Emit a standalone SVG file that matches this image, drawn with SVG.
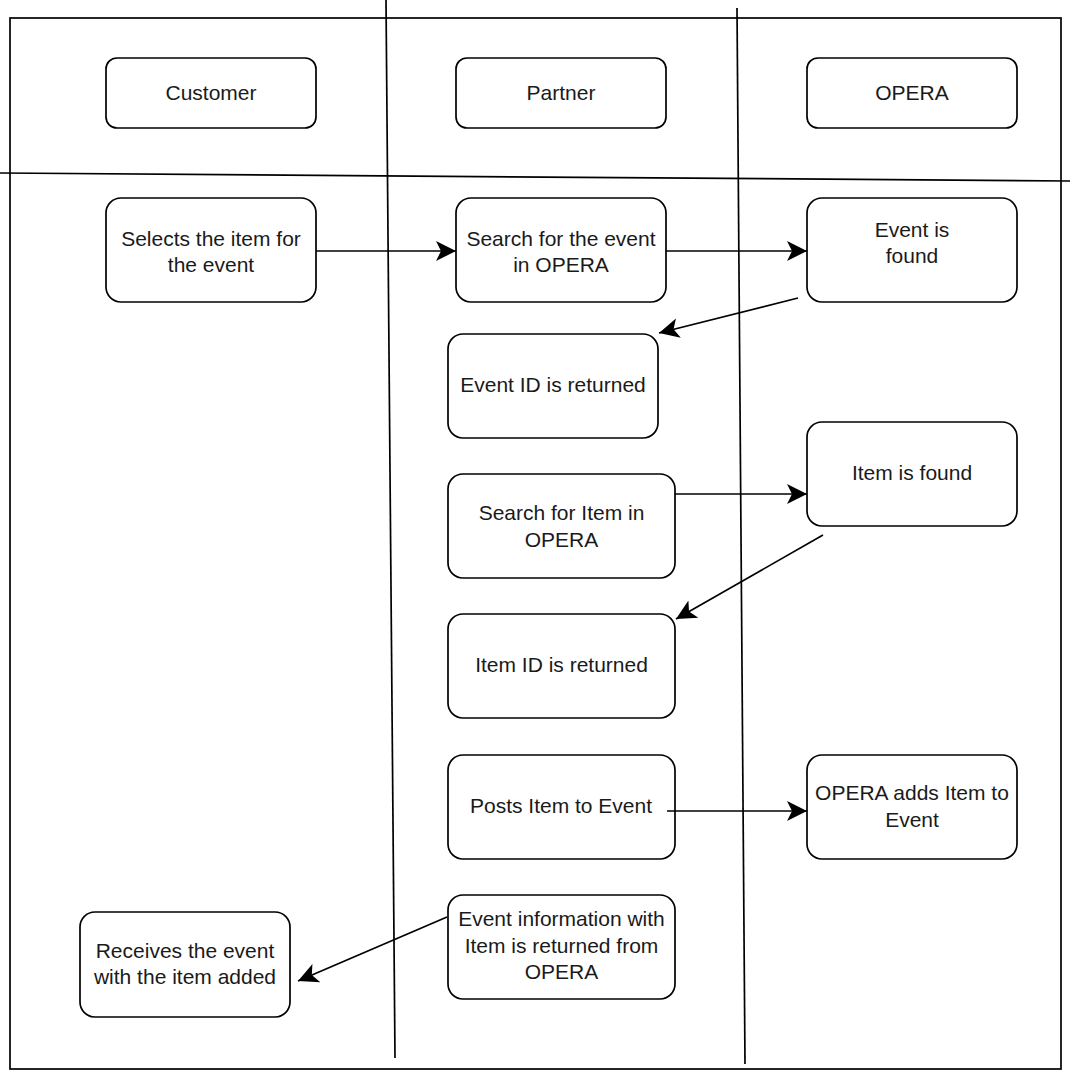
<svg xmlns="http://www.w3.org/2000/svg" width="1073" height="1071" viewBox="0 0 1073 1071">
<style>
.box{fill:#fff;stroke:#000;stroke-width:1.7}
.ln{fill:none;stroke:#000;stroke-width:1.7}
.t{font-family:"Liberation Sans",Arial,sans-serif;font-size:21px;fill:#1a1a1a;text-anchor:middle}
</style>
<defs>
<marker id="arr" markerUnits="userSpaceOnUse" markerWidth="24" markerHeight="24" viewBox="0 -12 24 24" refX="20" refY="0" orient="auto">
<path d="M0,-10 L20,0 L0,10 L5,0 Z" fill="#000"/>
</marker>
</defs>
<rect width="1073" height="1071" fill="#fff"/>
<g id="frame">
<rect x="10" y="18" width="1051" height="1051" class="ln" stroke-width="2"/>
<line x1="386" y1="0" x2="395" y2="1058" class="ln"/>
<line x1="737" y1="8" x2="745" y2="1064" class="ln"/>
<line x1="0" y1="173" x2="1070" y2="181" class="ln"/>
</g>
<g id="h-customer"><rect x="106" y="58" width="210" height="70" rx="11" class="box"/><text x="211" y="100" class="t">Customer</text></g>
<g id="h-partner"><rect x="456" y="58" width="210" height="70" rx="11" class="box"/><text x="561" y="100" class="t">Partner</text></g>
<g id="h-opera"><rect x="807" y="58" width="210" height="70" rx="11" class="box"/><text x="912" y="100" class="t">OPERA</text></g>
<g id="n-selects"><rect x="106" y="198" width="210" height="104" rx="15" class="box"/><text x="211" y="246" class="t">Selects the item for</text><text x="211" y="272" class="t">the event</text></g>
<g id="n-search-event"><rect x="456" y="198" width="210" height="104" rx="15" class="box"/><text x="561" y="246" class="t">Search for the event</text><text x="561" y="272" class="t">in OPERA</text></g>
<g id="n-event-found"><rect x="807" y="198" width="210" height="104" rx="15" class="box"/><text x="912" y="237" class="t">Event is</text><text x="912" y="263" class="t">found</text></g>
<g id="n-event-id"><rect x="448" y="334" width="210" height="104" rx="15" class="box"/><text x="553" y="392" class="t">Event ID is returned</text></g>
<g id="n-item-found"><rect x="807" y="422" width="210" height="104" rx="15" class="box"/><text x="912" y="480" class="t">Item is found</text></g>
<g id="n-search-item"><rect x="448" y="474" width="227" height="104" rx="15" class="box"/><text x="561.5" y="520" class="t">Search for Item in</text><text x="561.5" y="547" class="t">OPERA</text></g>
<g id="n-item-id"><rect x="448" y="614" width="227" height="104" rx="15" class="box"/><text x="561.5" y="672" class="t">Item ID is returned</text></g>
<g id="n-posts"><rect x="448" y="755" width="227" height="104" rx="15" class="box"/><text x="561" y="813" class="t">Posts Item to Event</text></g>
<g id="n-opera-adds"><rect x="807" y="755" width="210" height="104" rx="15" class="box"/><text x="912" y="800" class="t">OPERA adds Item to</text><text x="912" y="827" class="t">Event</text></g>
<g id="n-event-info"><rect x="448" y="895" width="227" height="104" rx="15" class="box"/><text x="561.5" y="926" class="t">Event information with</text><text x="561.5" y="953" class="t">Item is returned from</text><text x="561.5" y="979" class="t">OPERA</text></g>
<g id="n-receives"><rect x="80" y="912" width="210" height="105" rx="15" class="box"/><text x="185" y="958" class="t">Receives the event</text><text x="185" y="984" class="t">with the item added</text></g>
<g id="connectors">
<line x1="316" y1="251" x2="456" y2="251" class="ln" marker-end="url(#arr)"/>
<line x1="666" y1="251" x2="807" y2="251" class="ln" marker-end="url(#arr)"/>
<line x1="798" y1="298" x2="659" y2="333" class="ln" marker-end="url(#arr)"/>
<line x1="675" y1="494" x2="807" y2="494" class="ln" marker-end="url(#arr)"/>
<line x1="823" y1="535" x2="676" y2="619" class="ln" marker-end="url(#arr)"/>
<line x1="667" y1="811" x2="807" y2="811" class="ln" marker-end="url(#arr)"/>
<line x1="447" y1="917" x2="298" y2="981" class="ln" marker-end="url(#arr)"/>
</g>
</svg>
